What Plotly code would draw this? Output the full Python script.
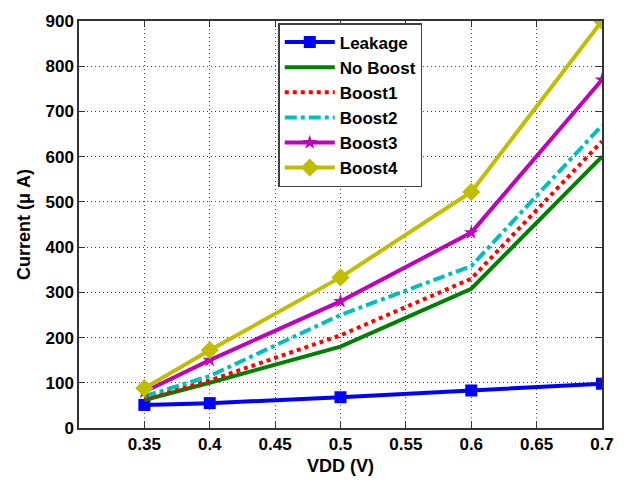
import plotly.graph_objects as go

vdd = [0.35, 0.4, 0.5, 0.6, 0.7]
leakage = [51, 55, 68, 83, 98]
no_boost = [62, 100, 180, 308, 600]
boost1 = [65, 105, 205, 330, 634]
boost2 = [70, 115, 250, 358, 669]
boost3 = [80, 150, 280, 432, 770]
boost4 = [88, 172, 333, 522, 900]

x_ticks = [0.35, 0.4, 0.45, 0.5, 0.55, 0.6, 0.65, 0.7]
x_ticktext = ["0.35", "0.4", "0.45", "0.5", "0.55", "0.6", "0.65", "0.7"]
y_ticks = [0, 100, 200, 300, 400, 500, 600, 700, 800, 900]

fig = go.Figure()
series = [
    ("Leakage", leakage, "#0000ff", "solid", "square", 12),
    ("No Boost", no_boost, "#008000", "solid", None, 0),
    ("Boost1", boost1, "#ff0000", "dot", None, 0),
    ("Boost2", boost2, "#00bfbf", "dashdot", None, 0),
    ("Boost3", boost3, "#bf00bf", "solid", "star", 11),
    ("Boost4", boost4, "#bfbf00", "solid", "diamond", 14),
]
for name, ys, color, dash, sym, size in series:
    if sym:
        fig.add_trace(go.Scatter(x=vdd, y=ys, name=name, mode="lines+markers",
                                 line=dict(color=color, width=4, dash=dash),
                                 marker=dict(symbol=sym, size=size, color=color)))
    else:
        fig.add_trace(go.Scatter(x=vdd, y=ys, name=name, mode="lines",
                                 line=dict(color=color, width=4, dash=dash)))

fig.update_layout(
    width=632, height=485,
    margin=dict(l=79, r=30, t=17, b=56),
    paper_bgcolor="white", plot_bgcolor="white",
    font=dict(family="Liberation Sans, Arial, sans-serif", size=17, color="black"),
    showlegend=True,
    legend=dict(x=0.381, y=0.995, xanchor="left", yanchor="top",
                bgcolor="white", bordercolor="#404040", borderwidth=1.5,
                font=dict(size=17, family="Liberation Sans, Arial, sans-serif", weight="bold"),
                tracegroupgap=0, itemwidth=50),
    xaxis=dict(range=[0.3, 0.7], tickvals=x_ticks, ticktext=x_ticktext,
               showgrid=True, gridcolor="#444", griddash="1px,3px", gridwidth=1,
               showline=True, linecolor="#333", linewidth=1.5, mirror="ticks",
               ticks="inside", ticklen=6, tickcolor="#333",
               tickfont=dict(size=17, weight="bold"),
               title=dict(text="VDD (V)", font=dict(size=18, weight="bold"), standoff=6),
               zeroline=False),
    yaxis=dict(range=[0, 900], tickvals=y_ticks,
               showgrid=True, gridcolor="#444", griddash="1px,3px", gridwidth=1,
               showline=True, linecolor="#333", linewidth=1.5, mirror="ticks",
               ticks="inside", ticklen=6, tickcolor="#333",
               tickfont=dict(size=17, weight="bold"),
               title=dict(text="Current (\u03bc A)", font=dict(size=18, weight="bold"), standoff=10),
               zeroline=False),
)

fig.write_html("out.html")
